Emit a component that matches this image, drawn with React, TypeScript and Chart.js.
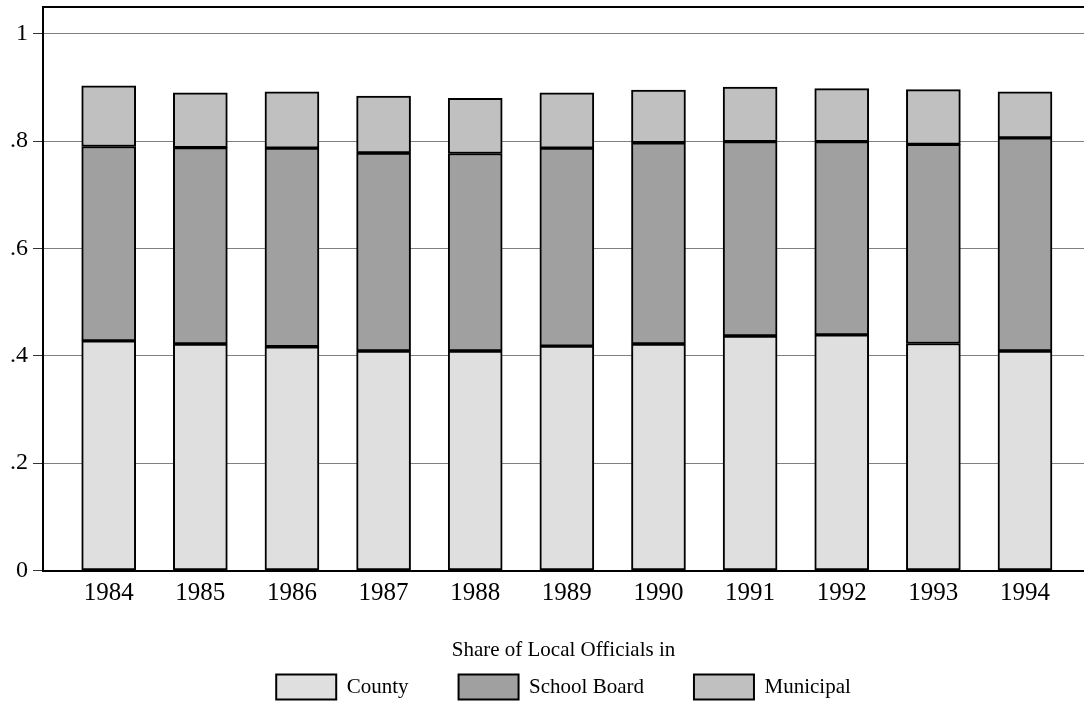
import React, { useEffect, useRef } from "react";
import { Chart, registerables } from "chart.js";

Chart.register(...registerables);

const years = [1984, 1985, 1986, 1987, 1988, 1989, 1990, 1991, 1992, 1993, 1994];
const county = [0.428, 0.422, 0.417, 0.409, 0.409, 0.418, 0.422, 0.437, 0.439, 0.423, 0.409];
const schoolBoard = [0.362, 0.366, 0.37, 0.369, 0.368, 0.369, 0.375, 0.362, 0.36, 0.371, 0.397];
const municipal = [0.113, 0.102, 0.105, 0.106, 0.103, 0.103, 0.098, 0.102, 0.099, 0.102, 0.086];
const seriesNames = ["County", "School Board", "Municipal"];
const yTickValues = [0, 0.2, 0.4, 0.6, 0.8, 1];
const yTickLabels = ["0", ".2", ".4", ".6", ".8", "1"];
const legendTitle = "Share of Local Officials in";

const FONT = "'Liberation Serif', 'Times New Roman', serif";

export default function App() {
  const ref = useRef<HTMLCanvasElement>(null);

  useEffect(() => {
    const canvas = ref.current;
    if (!canvas) return;
    const toPoints = (vals: number[]) => years.map((yr, i) => ({ x: yr, y: vals[i] }));
    const common = {
      borderColor: "#000",
      borderWidth: 2,
      borderSkipped: false as const,
      barThickness: 54,
    };
    const chart = new Chart(canvas, {
      type: "bar",
      data: {
        datasets: [
          { label: seriesNames[0], data: toPoints(county), backgroundColor: "#dfdfdf", ...common },
          { label: seriesNames[1], data: toPoints(schoolBoard), backgroundColor: "#a0a0a0", ...common },
          { label: seriesNames[2], data: toPoints(municipal), backgroundColor: "#c0c0c0", ...common },
        ],
      },
      options: {
        animation: false,
        responsive: false,
        devicePixelRatio: 1,
        layout: { padding: { top: 7, bottom: -7.5, left: 0, right: 0 } },
        font: { family: FONT },
        plugins: {
          tooltip: { enabled: false },
          legend: {
            position: "bottom",
            fullSize: false,
            labels: {
              boxWidth: 60,
              boxHeight: 25,
              padding: 50,
              color: "#000",
              font: { family: FONT, size: 21 },
            },
            title: {
              display: true,
              text: legendTitle,
              color: "#000",
              font: { family: FONT, size: 21 },
              padding: { top: 0, bottom: -40.9 },
            },
          },
        },
        scales: {
          x: {
            type: "linear",
            stacked: true,
            offset: false,
            min: 1983.283,
            max: 1994.644,
            grid: { display: false, drawTicks: false },
            border: { display: true, color: "#000", width: 2 },
            afterBuildTicks: (scale: any) => {
              scale.ticks = years.map((v) => ({ value: v }));
            },
            afterFit: (scale: any) => {
              scale.height = 69.7;
              scale.paddingLeft = 0;
              scale.paddingRight = 0;
            },
            ticks: {
              padding: 8,
              color: "#000",
              font: { family: FONT, size: 25 },
              autoSkip: false,
              maxRotation: 0,
              callback: (v: any) => String(v),
            },
          },
          x2: {
            type: "linear",
            axis: "x",
            position: "top",
            grid: { display: false, drawTicks: false },
            ticks: { display: false },
            border: { display: true, color: "#000", width: 2 },
            afterFit: (scale: any) => {
              scale.height = 0;
              scale.paddingLeft = 0;
              scale.paddingRight = 0;
            },
          },
          y: {
            stacked: true,
            min: 0,
            max: 1.05,
            afterBuildTicks: (scale: any) => {
              scale.ticks = yTickValues.map((v) => ({ value: v }));
            },
            afterFit: (scale: any) => {
              scale.width = 43;
              scale.paddingTop = 0;
              scale.paddingBottom = 0;
            },
            grid: {
              color: "#808080",
              lineWidth: 1,
              tickColor: "#333",
              tickLength: 10,
            },
            border: { display: true, color: "#000", width: 2 },
            ticks: {
              padding: 5,
              color: "#000",
              font: { family: FONT, size: 24 },
              callback: (v: any) => {
                const idx = yTickValues.findIndex((t) => Math.abs(t - Number(v)) < 1e-9);
                return idx >= 0 ? yTickLabels[idx] : "";
              },
            },
          },
        },
      } as any,
    });
    return () => chart.destroy();
  }, []);

  return (
    <div style={{ position: "fixed", left: 0, top: 0, width: 1084, height: 702, background: "#fff" }}>
      <canvas ref={ref} width={1084} height={702} style={{ display: "block" }} />
    </div>
  );
}
